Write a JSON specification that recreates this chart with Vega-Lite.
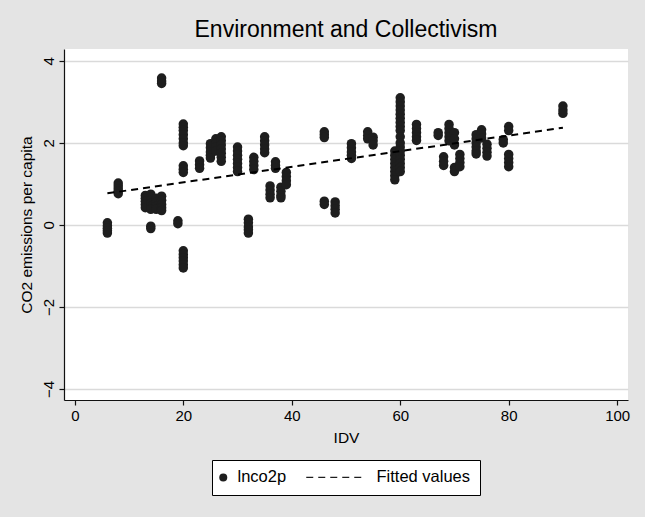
{
  "$schema": "https://vega.github.io/schema/vega-lite/v6.json",
  "width": 564,
  "height": 351,
  "autosize": {"type": "none"},
  "padding": {"left": 64, "top": 49, "right": 17, "bottom": 117},
  "background": "#e4e4e4",
  "title": {"text": "Environment and Collectivism", "fontSize": 23, "font": "Liberation Sans", "fontWeight": "normal", "color": "#000000", "offset": 7, "anchor": "middle", "frame": "group"},
  "config": {
    "view": {"stroke": null, "fill": "#ffffff"},
    "axis": {"domainColor": "#111111", "domainWidth": 1.2, "tickColor": "#111111", "tickWidth": 1.2, "tickSize": 5, "labelColor": "#000000", "titleColor": "#000000", "labelFont": "Liberation Sans", "titleFont": "Liberation Sans", "labelFontSize": 15, "titleFontSize": 15.5, "titleFontWeight": "normal", "labelPadding": 3},
    "legend": {"labelFont": "Liberation Sans", "labelFontSize": 16.5, "labelColor": "#000000"}
  },
  "layer": [
    {
      "data": {"values": [
        {"IDV":6,"lnco2p":0.05},{"IDV":6,"lnco2p":-0.02},{"IDV":6,"lnco2p":-0.08},{"IDV":6,"lnco2p":-0.14},{"IDV":6,"lnco2p":-0.2},
        {"IDV":8,"lnco2p":1.02},{"IDV":8,"lnco2p":0.95},{"IDV":8,"lnco2p":0.88},{"IDV":8,"lnco2p":0.82},{"IDV":8,"lnco2p":0.76},
        {"IDV":13,"lnco2p":0.72},{"IDV":13,"lnco2p":0.65},{"IDV":13,"lnco2p":0.58},{"IDV":13,"lnco2p":0.5},{"IDV":13,"lnco2p":0.42},
        {"IDV":14,"lnco2p":0.75},{"IDV":14,"lnco2p":0.68},{"IDV":14,"lnco2p":0.6},{"IDV":14,"lnco2p":0.52},{"IDV":14,"lnco2p":0.45},{"IDV":14,"lnco2p":0.38},{"IDV":14,"lnco2p":-0.03},{"IDV":14,"lnco2p":-0.09},
        {"IDV":15,"lnco2p":0.65},{"IDV":15,"lnco2p":0.55},{"IDV":15,"lnco2p":0.45},{"IDV":15,"lnco2p":0.38},
        {"IDV":16,"lnco2p":0.7},{"IDV":16,"lnco2p":0.6},{"IDV":16,"lnco2p":0.5},{"IDV":16,"lnco2p":0.42},{"IDV":16,"lnco2p":0.35},{"IDV":16,"lnco2p":3.58},{"IDV":16,"lnco2p":3.51},{"IDV":16,"lnco2p":3.45},
        {"IDV":19,"lnco2p":0.1},{"IDV":19,"lnco2p":0.03},
        {"IDV":20,"lnco2p":2.46},{"IDV":20,"lnco2p":2.38},{"IDV":20,"lnco2p":2.3},{"IDV":20,"lnco2p":2.2},{"IDV":20,"lnco2p":2.1},{"IDV":20,"lnco2p":2.0},{"IDV":20,"lnco2p":1.93},{"IDV":20,"lnco2p":1.44},{"IDV":20,"lnco2p":1.36},{"IDV":20,"lnco2p":1.28},{"IDV":20,"lnco2p":-0.63},{"IDV":20,"lnco2p":-0.72},{"IDV":20,"lnco2p":-0.8},{"IDV":20,"lnco2p":-0.88},{"IDV":20,"lnco2p":-0.97},{"IDV":20,"lnco2p":-1.05},
        {"IDV":23,"lnco2p":1.56},{"IDV":23,"lnco2p":1.47},{"IDV":23,"lnco2p":1.38},
        {"IDV":25,"lnco2p":1.98},{"IDV":25,"lnco2p":1.88},{"IDV":25,"lnco2p":1.78},{"IDV":25,"lnco2p":1.7},{"IDV":25,"lnco2p":1.63},
        {"IDV":26,"lnco2p":2.1},{"IDV":26,"lnco2p":2.0},{"IDV":26,"lnco2p":1.9},{"IDV":26,"lnco2p":1.8},
        {"IDV":27,"lnco2p":2.15},{"IDV":27,"lnco2p":2.05},{"IDV":27,"lnco2p":1.95},{"IDV":27,"lnco2p":1.85},{"IDV":27,"lnco2p":1.75},{"IDV":27,"lnco2p":1.65},{"IDV":27,"lnco2p":1.55},
        {"IDV":30,"lnco2p":1.9},{"IDV":30,"lnco2p":1.8},{"IDV":30,"lnco2p":1.7},{"IDV":30,"lnco2p":1.6},{"IDV":30,"lnco2p":1.5},{"IDV":30,"lnco2p":1.4},{"IDV":30,"lnco2p":1.3},
        {"IDV":32,"lnco2p":0.14},{"IDV":32,"lnco2p":0.05},{"IDV":32,"lnco2p":-0.05},{"IDV":32,"lnco2p":-0.12},{"IDV":32,"lnco2p":-0.2},
        {"IDV":33,"lnco2p":1.65},{"IDV":33,"lnco2p":1.55},{"IDV":33,"lnco2p":1.45},{"IDV":33,"lnco2p":1.35},
        {"IDV":35,"lnco2p":2.15},{"IDV":35,"lnco2p":2.05},{"IDV":35,"lnco2p":1.95},{"IDV":35,"lnco2p":1.85},{"IDV":35,"lnco2p":1.76},
        {"IDV":36,"lnco2p":0.95},{"IDV":36,"lnco2p":0.85},{"IDV":36,"lnco2p":0.75},{"IDV":36,"lnco2p":0.66},
        {"IDV":37,"lnco2p":1.54},{"IDV":37,"lnco2p":1.45},{"IDV":37,"lnco2p":1.38},
        {"IDV":38,"lnco2p":0.92},{"IDV":38,"lnco2p":0.82},{"IDV":38,"lnco2p":0.72},{"IDV":38,"lnco2p":0.66},
        {"IDV":39,"lnco2p":1.28},{"IDV":39,"lnco2p":1.18},{"IDV":39,"lnco2p":1.08},{"IDV":39,"lnco2p":0.98},
        {"IDV":46,"lnco2p":2.27},{"IDV":46,"lnco2p":2.2},{"IDV":46,"lnco2p":2.13},{"IDV":46,"lnco2p":0.58},{"IDV":46,"lnco2p":0.5},
        {"IDV":48,"lnco2p":0.56},{"IDV":48,"lnco2p":0.47},{"IDV":48,"lnco2p":0.38},{"IDV":48,"lnco2p":0.29},
        {"IDV":51,"lnco2p":1.98},{"IDV":51,"lnco2p":1.88},{"IDV":51,"lnco2p":1.78},{"IDV":51,"lnco2p":1.7},{"IDV":51,"lnco2p":1.62},
        {"IDV":54,"lnco2p":2.27},{"IDV":54,"lnco2p":2.18},{"IDV":54,"lnco2p":2.1},
        {"IDV":55,"lnco2p":2.14},{"IDV":55,"lnco2p":2.05},{"IDV":55,"lnco2p":1.95},
        {"IDV":59,"lnco2p":1.8},{"IDV":59,"lnco2p":1.7},{"IDV":59,"lnco2p":1.6},{"IDV":59,"lnco2p":1.5},{"IDV":59,"lnco2p":1.4},{"IDV":59,"lnco2p":1.3},{"IDV":59,"lnco2p":1.2},{"IDV":59,"lnco2p":1.1},
        {"IDV":60,"lnco2p":3.1},{"IDV":60,"lnco2p":3.0},{"IDV":60,"lnco2p":2.9},{"IDV":60,"lnco2p":2.8},{"IDV":60,"lnco2p":2.7},{"IDV":60,"lnco2p":2.6},{"IDV":60,"lnco2p":2.5},{"IDV":60,"lnco2p":2.4},{"IDV":60,"lnco2p":2.3},{"IDV":60,"lnco2p":2.15},{"IDV":60,"lnco2p":2.0},{"IDV":60,"lnco2p":1.9},{"IDV":60,"lnco2p":1.8},{"IDV":60,"lnco2p":1.7},{"IDV":60,"lnco2p":1.6},{"IDV":60,"lnco2p":1.5},{"IDV":60,"lnco2p":1.4},{"IDV":60,"lnco2p":1.3},
        {"IDV":63,"lnco2p":2.45},{"IDV":63,"lnco2p":2.35},{"IDV":63,"lnco2p":2.25},{"IDV":63,"lnco2p":2.15},{"IDV":63,"lnco2p":2.06},
        {"IDV":67,"lnco2p":2.25},{"IDV":67,"lnco2p":2.18},
        {"IDV":68,"lnco2p":1.66},{"IDV":68,"lnco2p":1.55},{"IDV":68,"lnco2p":1.45},
        {"IDV":69,"lnco2p":2.45},{"IDV":69,"lnco2p":2.35},{"IDV":69,"lnco2p":2.25},{"IDV":69,"lnco2p":2.15},{"IDV":69,"lnco2p":2.05},
        {"IDV":70,"lnco2p":2.25},{"IDV":70,"lnco2p":2.1},{"IDV":70,"lnco2p":1.95},{"IDV":70,"lnco2p":1.4},{"IDV":70,"lnco2p":1.3},
        {"IDV":71,"lnco2p":1.72},{"IDV":71,"lnco2p":1.62},{"IDV":71,"lnco2p":1.52},{"IDV":71,"lnco2p":1.42},
        {"IDV":74,"lnco2p":2.2},{"IDV":74,"lnco2p":2.1},{"IDV":74,"lnco2p":2.0},{"IDV":74,"lnco2p":1.9},{"IDV":74,"lnco2p":1.8},{"IDV":74,"lnco2p":1.73},
        {"IDV":75,"lnco2p":2.32},{"IDV":75,"lnco2p":2.22},{"IDV":75,"lnco2p":2.12},
        {"IDV":76,"lnco2p":1.97},{"IDV":76,"lnco2p":1.87},{"IDV":76,"lnco2p":1.77},{"IDV":76,"lnco2p":1.68},
        {"IDV":79,"lnco2p":2.08},{"IDV":79,"lnco2p":2.0},
        {"IDV":80,"lnco2p":2.4},{"IDV":80,"lnco2p":2.3},{"IDV":80,"lnco2p":1.72},{"IDV":80,"lnco2p":1.62},{"IDV":80,"lnco2p":1.52},{"IDV":80,"lnco2p":1.42},
        {"IDV":90,"lnco2p":2.9},{"IDV":90,"lnco2p":2.8},{"IDV":90,"lnco2p":2.72}
      ]},
      "mark": {"type": "point", "filled": true, "size": 90, "opacity": 1, "color": "#1e1e1e"},
      "encoding": {
        "x": {"field": "IDV", "type": "quantitative", "scale": {"domain": [-2, 102], "nice": false, "zero": false},
              "axis": {"values": [0, 20, 40, 60, 80, 100], "grid": false, "title": "IDV", "titlePadding": 7}},
        "y": {"field": "lnco2p", "type": "quantitative", "scale": {"domain": [-4.27, 4.29], "nice": false, "zero": false},
              "axis": {"values": [-4, -2, 0, 2, 4], "grid": true, "gridColor": "#dadada", "gridWidth": 1.5, "labelAngle": -90, "labelAlign": "center", "labelBaseline": "bottom", "title": "CO2 emissions per capita", "titlePadding": 7}},
        "shape": {"datum": "lnco2p", "type": "nominal",
                  "scale": {"domain": ["lnco2p", "Fitted values"], "range": ["circle", "M-14,-0.15H-12.25V0.15H-14ZM-11,-0.15H-9.25V0.15H-11ZM-8,-0.15H-6.25V0.15H-8ZM-5,-0.15H-3.25V0.15H-5ZM-2,-0.15H-0.25V0.15H-2Z"]},
                  "legend": {"title": null, "orient": "none", "legendX": 148, "legendY": 411, "direction": "horizontal",
                             "strokeColor": "#000000", "fillColor": "#ffffff", "padding": 9, "symbolSize": 64, "symbolOffset": -6, "labelOffset": 6, "columnPadding": 16,
                             "encode": {"symbols": {"update": {"fill": {"value": "#000000"}, "stroke": {"value": "#000000"}, "strokeWidth": {"value": 0.8}, "opacity": {"value": 1}}}}}}
      }
    },
    {
      "data": {"values": [{"IDV": 6, "fitted": 0.77}, {"IDV": 90, "fitted": 2.37}]},
      "mark": {"type": "line", "color": "#000000", "strokeWidth": 2, "strokeDash": [7, 5]},
      "encoding": {
        "x": {"field": "IDV", "type": "quantitative"},
        "y": {"field": "fitted", "type": "quantitative"}
      }
    }
  ]
}
